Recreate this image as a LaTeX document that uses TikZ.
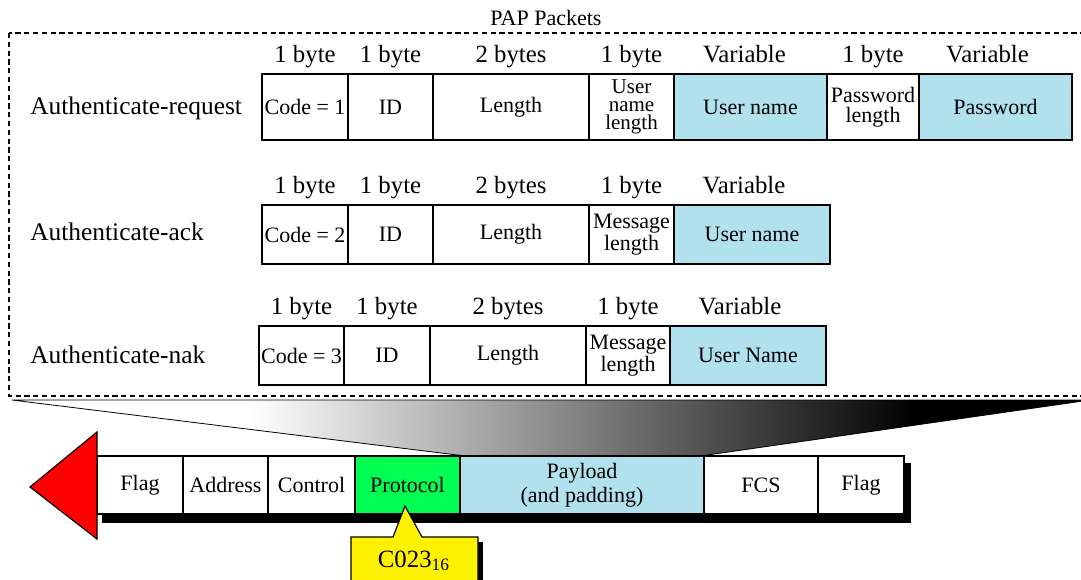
\documentclass[tikz,border=0pt]{standalone}
\usepackage{fontspec}
\setmainfont{Liberation Serif}
\usetikzlibrary{backgrounds}
% horizontal fade used for the zoom wedge (bbox maps to 25bp..75bp)
\pgfdeclarehorizontalshading{zoomfade}{100bp}{color(0bp)=(white); color(36bp)=(white); color(67bp)=(black); color(100bp)=(black)}
\definecolor{fieldblue}{RGB}{176,225,236}
\definecolor{protogreen}{RGB}{0,255,80}
\tikzset{
  cell/.style={draw, fill=white, line width=0.6pt, inner sep=0pt, align=center,
               font=\fontsize{11}{10}\selectfont},
  tallcell/.style={cell, font=\fontsize{10.5}{9}\selectfont},
  datafield/.style={cell, fill=fieldblue},
  hdr/.style={inner sep=0pt, anchor=base, font=\fontsize{12.4}{14}\selectfont},
  rowname/.style={inner sep=0pt, anchor=base west, font=\fontsize{12.7}{14}\selectfont},
  boxframe/.style={line width=0.6pt}
}
\begin{document}
\begin{tikzpicture}[x=0.5pt, y=-0.5pt]
\useasboundingbox (0,0) rectangle (1081,579);

% ---------- PAP packet formats ----------
\node[inner sep=0pt, anchor=base, font=\fontsize{11}{13}\selectfont] (title) at (546,25) {PAP Packets};

% Authenticate-request
\node[rowname] (lreq) at (30,114) {Authenticate-request};
\node[cell, minimum width=43pt,   minimum height=33pt] (q1) at (305,107)   {Code = 1};
\node[cell, minimum width=42.5pt, minimum height=33pt] (q2) at (390.5,107) {ID};
\node[cell, minimum width=78pt,   minimum height=33pt] (q3) at (511,107)   {Length};
\node[tallcell, minimum width=42.5pt, minimum height=33pt] (q4) at (631.5,107) {User\\name\\length};
\node[datafield, minimum width=76.5pt, minimum height=33pt] (q5) at (750.5,107) {User name};
\node[cell, minimum width=46pt,   minimum height=33pt] (q6) at (873,107)   {Password\\length};
\node[datafield, minimum width=76.5pt, minimum height=33pt] (q7) at (995.5,107) {Password};
\node[hdr] (hq1) at ([yshift=5.5pt]q1.north) {1 byte};
\node[hdr] (hq2) at ([yshift=5.5pt]q2.north) {1 byte};
\node[hdr] (hq3) at ([yshift=5.5pt]q3.north) {2 bytes};
\node[hdr] (hq4) at ([yshift=5.5pt]q4.north) {1 byte};
\node[hdr] (hq5) at ([xshift=-3pt,yshift=5.5pt]q5.north) {Variable};
\node[hdr] (hq6) at ([yshift=5.5pt]q6.north) {1 byte};
\node[hdr] (hq7) at ([xshift=-4pt,yshift=5.5pt]q7.north) {Variable};

% Authenticate-ack
\node[rowname] (lack) at (30,240) {Authenticate-ack};
\node[cell, minimum width=43pt,   minimum height=29.5pt] (k1) at (305,234.5)   {Code = 2};
\node[cell, minimum width=42.5pt, minimum height=29.5pt] (k2) at (390.5,234.5) {ID};
\node[cell, minimum width=78pt,   minimum height=29.5pt] (k3) at (511,234.5)   {Length};
\node[cell, minimum width=42.5pt, minimum height=29.5pt] (k4) at (631.5,234.5) {Message\\length};
\node[datafield, minimum width=78pt, minimum height=29.5pt] (k5) at (752,234.5) {User name};
\node[hdr] (hk1) at ([yshift=5.5pt]k1.north) {1 byte};
\node[hdr] (hk2) at ([yshift=5.5pt]k2.north) {1 byte};
\node[hdr] (hk3) at ([yshift=5.5pt]k3.north) {2 bytes};
\node[hdr] (hk4) at ([yshift=5.5pt]k4.north) {1 byte};
\node[hdr] (hk5) at ([xshift=-4pt,yshift=5.5pt]k5.north) {Variable};

% Authenticate-nak
\node[rowname] (lnak) at (30,363) {Authenticate-nak};
\node[cell, minimum width=42.5pt, minimum height=29.5pt] (n1) at (301.5,355.5) {Code = 3};
\node[cell, minimum width=43pt,   minimum height=29.5pt] (n2) at (387,355.5)   {ID};
\node[cell, minimum width=78pt,   minimum height=29.5pt] (n3) at (508,355.5)   {Length};
\node[cell, minimum width=42pt,   minimum height=29.5pt] (n4) at (628,355.5)   {Message\\length};
\node[datafield, minimum width=78pt, minimum height=29.5pt] (n5) at (748,355.5) {User Name};
\node[hdr] (hn1) at ([yshift=5.5pt]n1.north) {1 byte};
\node[hdr] (hn2) at ([yshift=5.5pt]n2.north) {1 byte};
\node[hdr] (hn3) at ([yshift=5.5pt]n3.north) {2 bytes};
\node[hdr] (hn4) at ([yshift=5.5pt]n4.north) {1 byte};
\node[hdr] (hn5) at ([xshift=-4pt,yshift=5.5pt]n5.north) {Variable};

% dashed enclosure
\draw[line width=1pt, dash pattern=on 2.6pt off 1.8pt] (9,33) rectangle (1095,396);

% ---------- PPP frame ----------
\node[cell, minimum width=43pt,   minimum height=29pt] (f1) at (140,485)   {Flag};
\node[cell, minimum width=42.5pt, minimum height=29pt] (f2) at (225.5,485) {Address};
\node[cell, minimum width=43.5pt, minimum height=29pt] (f3) at (311.5,485) {Control};
\node[cell, minimum width=52.5pt, minimum height=29pt, fill=protogreen] (f4) at (407.5,485) {Protocol};
\node[datafield, minimum width=122pt, minimum height=29pt, font=\fontsize{11}{12}\selectfont] (f5) at (582,485) {Payload\\(and padding)};
\node[cell, minimum width=57pt,   minimum height=29pt] (f6) at (761,485)   {FCS};
\node[cell, minimum width=43pt,   minimum height=29pt] (f7) at (861,485)   {Flag};

\begin{scope}[on background layer]
  % zoom wedge from the payload up to the packet formats
  \coordinate (wl) at (12,400);
  \coordinate (wr) at (1090,400);
  \shade[shading=zoomfade, draw, line width=0.4pt]
    (wl) -- (wr) -- (f5.north east) -- (f4.north east) -- cycle;
  % drop shadow behind the frame
  \fill[black] ([xshift=3pt,yshift=-4pt]f1.north west) rectangle ([xshift=3pt,yshift=-4pt]f7.south east);
\end{scope}

% direction arrow head
\coordinate (at) at (97,432);
\coordinate (ab) at (97,539);
\coordinate (ap) at (30,487);
\filldraw[fill=red, boxframe] (at) -- (ap) -- (ab) -- cycle;

% protocol value callout
\coordinate (ctip) at (405,506);
\fill[black] (478,542) rectangle (483,600);
\filldraw[fill=yellow, boxframe]
  (351,537) -- (393,537) -- (ctip) -- (422,537) -- (478,537) -- (478,600) -- (351,600) -- cycle;
\node[inner sep=0pt, font=\fontsize{12.4}{14}\selectfont] (cval) at (414,561) {C023\textsubscript{16}};
\end{tikzpicture}
\end{document}
